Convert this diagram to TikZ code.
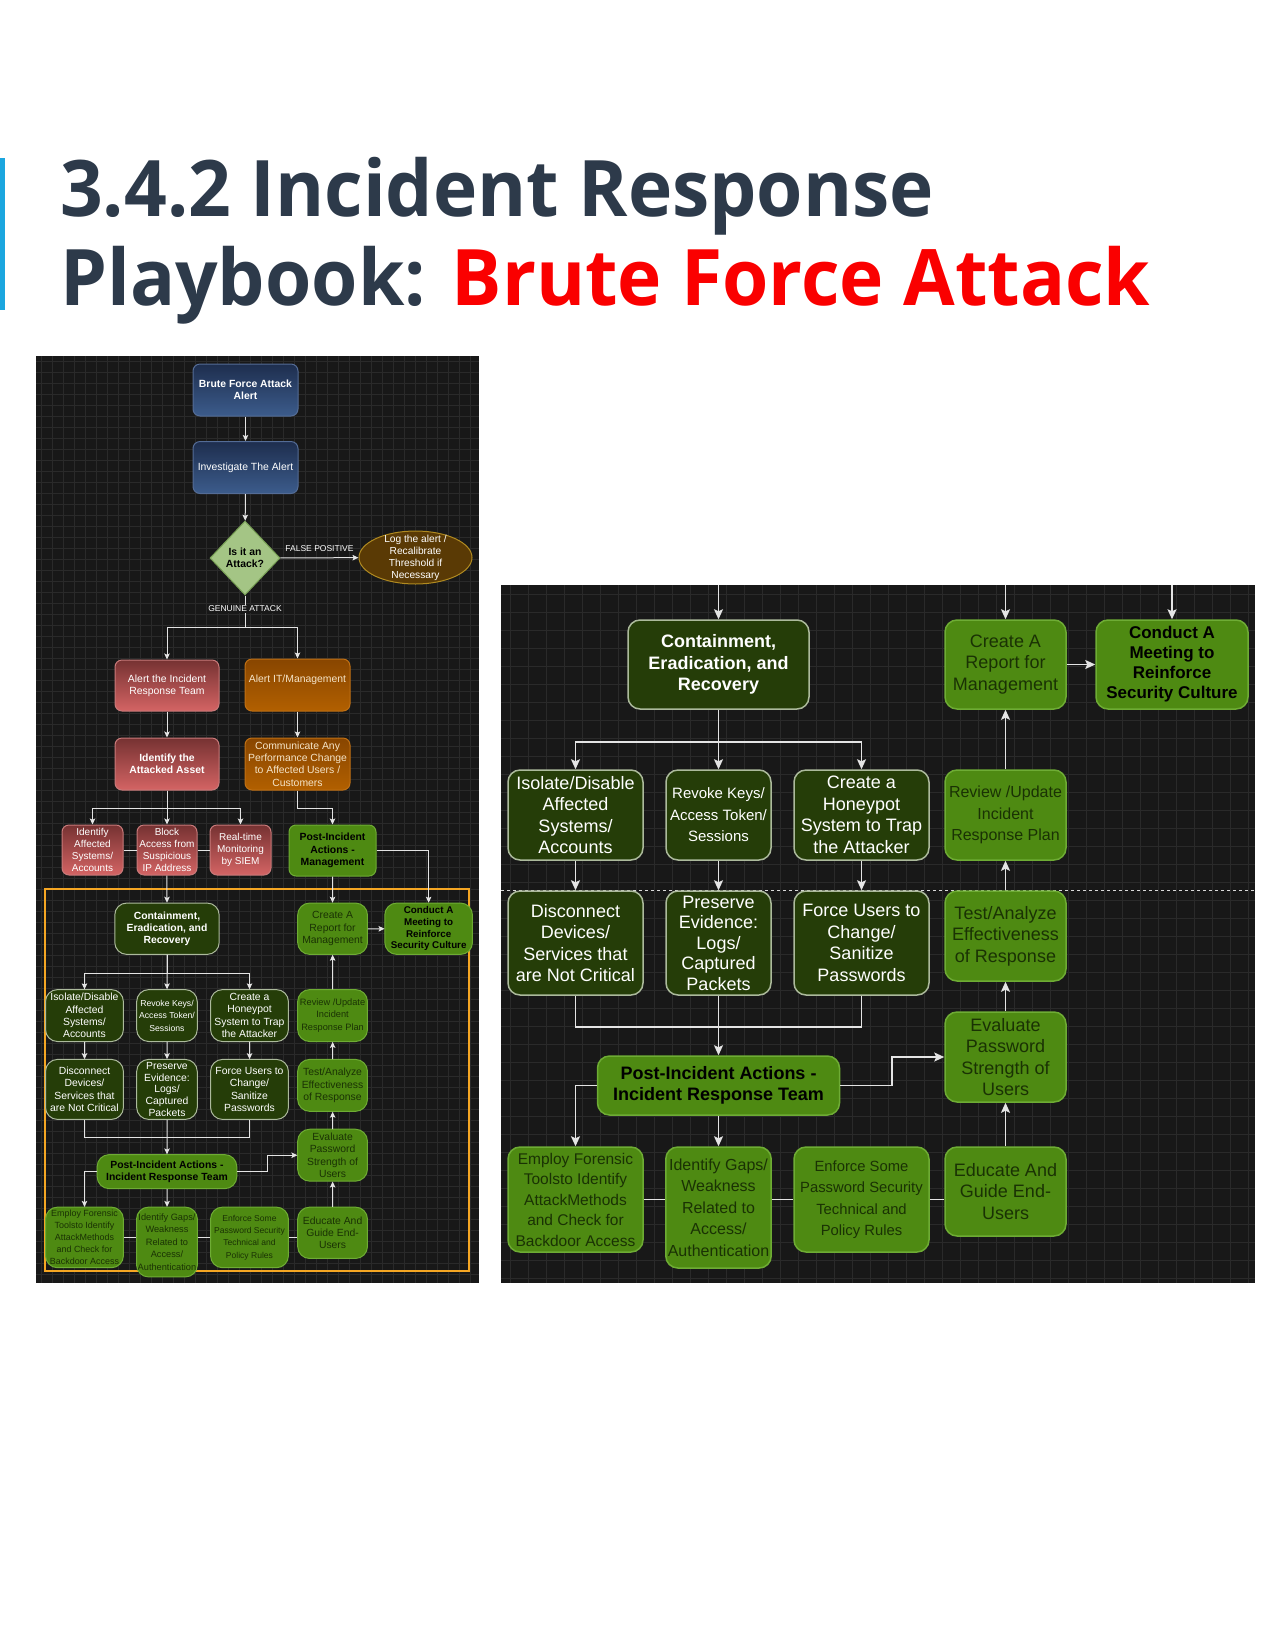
\documentclass[tikz,border=0pt]{standalone}
\usepackage{fontspec}
\setmainfont{Liberation Sans}
\newfontfamily\headfont{Open Sans}[FakeStretch=0.96]
\usepackage{xcolor}
\usepackage{tikz}
\usetikzlibrary{shapes.geometric, arrows.meta, positioning}
\definecolor{slatetext}{RGB}{45, 58, 74}
\definecolor{titlered}{RGB}{250, 0, 0}
\definecolor{barblue}{RGB}{27, 166, 223}
\definecolor{panelbg}{RGB}{24, 24, 24}
\definecolor{gridgray}{RGB}{42, 42, 42}
\definecolor{linkgray}{RGB}{228, 228, 228}
\definecolor{navytop}{RGB}{30, 46, 78}
\definecolor{navybot}{RGB}{60, 92, 140}
\definecolor{navyedge}{RGB}{84, 108, 150}
\definecolor{rosetop}{RGB}{118, 50, 50}
\definecolor{rosebot}{RGB}{212, 100, 100}
\definecolor{roseedge}{RGB}{200, 122, 122}
\definecolor{ambertop}{RGB}{136, 70, 0}
\definecolor{amberbot}{RGB}{178, 96, 0}
\definecolor{amberedge}{RGB}{192, 112, 20}
\definecolor{ambertext}{RGB}{245, 228, 200}
\definecolor{mossfill}{RGB}{37, 61, 8}
\definecolor{mossedge}{RGB}{172, 186, 156}
\definecolor{leaffill}{RGB}{78, 138, 18}
\definecolor{leafedge}{RGB}{110, 172, 52}
\definecolor{leaftext}{RGB}{26, 50, 4}
\definecolor{sagefill}{RGB}{164, 197, 133}
\definecolor{sageedge}{RGB}{120, 160, 85}
\definecolor{bronzefill}{RGB}{90, 58, 5}
\definecolor{bronzeedge}{RGB}{176, 138, 32}
\definecolor{frameorange}{RGB}{245, 166, 35}
\tikzstyle{box} = [
    rectangle,
    rounded corners=12pt,
    align=center,
    inner sep=2pt,
    line width=1.5pt,
    font=\fontsize{18}{21.5}\selectfont
]
\tikzstyle{mossbox} = [box, fill=mossfill, draw=mossedge, text=white]
\tikzstyle{leafbox} = [box, fill=leaffill, draw=leafedge, text=leaftext]
\tikzstyle{leafhead} = [leafbox, text=black, font=\fontsize{18}{21.5}\selectfont\bfseries]
\tikzstyle{smallbox} = [
    rectangle,
    rounded corners=7pt,
    align=center,
    inner sep=1pt,
    line width=1pt,
    font=\fontsize{10.4}{12.4}\selectfont
]
\tikzstyle{navybox} = [smallbox, top color=navytop, bottom color=navybot, draw=navyedge, text=white, minimum width=105pt, minimum height=52pt]
\tikzstyle{rosebox} = [smallbox, top color=rosetop, bottom color=rosebot, draw=roseedge, text=white]
\tikzstyle{amberbox} = [smallbox, top color=ambertop, bottom color=amberbot, draw=amberedge, text=ambertext, minimum width=105pt, minimum height=52pt]
\tikzstyle{arrow} = [
    ->,
    >={Stealth[length=10pt, width=9pt, inset=2pt]},
    line width=1.6pt,
    draw=linkgray
]
\tikzstyle{link} = [line width=1.6pt, draw=linkgray]
\tikzstyle{edgelabel} = [text=white, font=\fontsize{8.5}{10}\selectfont, inner sep=1pt]
\tikzstyle{gridline} = [draw=gridgray, line width=0.5pt]
% containment and post-incident part, drawn in both panels
\newcommand{\lowerflow}[1]{%
        \node[mossbox, font=\fontsize{18}{21.5}\selectfont\bfseries, minimum width=181pt, minimum height=89pt] (#1cer) at (718.5, 664.5) {Containment,\\Eradication, and\\Recovery};
        \node[leafbox, minimum width=121pt, minimum height=89pt] (#1rep) at (1005.5, 664.5) {Create A\\Report for\\Management};
        \node[leafhead, font=\fontsize{17}{20}\selectfont\bfseries, minimum width=152pt, minimum height=89pt] (#1meet) at (1172, 664.5) {Conduct A\\Meeting to\\Reinforce\\Security Culture};
        \node[mossbox, minimum width=135pt, minimum height=90pt] (#1iso) at (575.5, 815) {Isolate/Disable\\Affected\\Systems/\\Accounts};
        \node[mossbox, font=\fontsize{15}{21.5}\selectfont, minimum width=105pt, minimum height=90pt] (#1rev) at (718.5, 815) {Revoke Keys/\\Access Token/\\Sessions};
        \node[mossbox, minimum width=135pt, minimum height=90pt] (#1hon) at (861.5, 815) {Create a\\Honeypot\\System to Trap\\the Attacker};
        \node[leafbox, font=\fontsize{16}{21.5}\selectfont, minimum width=121pt, minimum height=90pt] (#1rvw) at (1005.5, 815) {Review /Update\\Incident\\Response Plan};
        \node[mossbox, minimum width=135pt, minimum height=104pt] (#1dis) at (575.5, 943) {Disconnect\\Devices/\\Services that\\are Not Critical};
        \node[mossbox, font=\fontsize{18}{20.5}\selectfont, minimum width=105pt, minimum height=104pt] (#1pre) at (718.5, 943) {Preserve\\Evidence:\\Logs/\\Captured\\Packets};
        \node[mossbox, minimum width=135pt, minimum height=104pt] (#1frc) at (861.5, 943) {Force Users to\\Change/\\Sanitize\\Passwords};
        \node[leafbox, minimum width=121pt, minimum height=90pt] (#1tst) at (1005.5, 936) {Test/Analyze\\Effectiveness\\of Response};
        \node[leafhead, minimum width=242pt, minimum height=59pt] (#1pir) at (718.5, 1085.5) {Post-Incident Actions -\\Incident Response Team};
        \node[leafbox, minimum width=121pt, minimum height=90pt] (#1eva) at (1005.5, 1057) {Evaluate\\Password\\Strength of\\Users};
        \node[leafbox, font=\fontsize{15.5}{20.5}\selectfont, minimum width=135pt, minimum height=105pt] (#1emp) at (575.5, 1199.5) {Employ Forensic\\Toolsto Identify\\AttackMethods\\and Check for\\Backdoor Access};
        \node[leafbox, font=\fontsize{16}{21.4}\selectfont, minimum width=105pt, minimum height=121pt] (#1gap) at (718.5, 1207.5) {Identify Gaps/\\Weakness\\Related to\\Access/\\Authentication};
        \node[leafbox, font=\fontsize{14.8}{21.5}\selectfont, minimum width=135pt, minimum height=105pt] (#1enf) at (861.5, 1199.5) {Enforce Some\\Password Security\\Technical and\\Policy Rules};
        \node[leafbox, minimum width=121pt, minimum height=89pt] (#1edu) at (1005.5, 1191.5) {Educate And\\Guide End-\\Users};
        \draw[arrow] (#1cer) -- (#1rev);
        \draw[arrow] (#1cer.south) -- ++(0, 32) -| (#1iso.north);
        \draw[arrow] (#1cer.south) -- ++(0, 32) -| (#1hon.north);
        \draw[arrow] (#1iso) -- (#1dis);
        \draw[arrow] (#1rev) -- (#1pre);
        \draw[arrow] (#1hon) -- (#1frc);
        \draw[link] (#1dis.south) -- ++(0, 31) -| (#1frc.south);
        \draw[arrow] (#1pre) -- (#1pir);
        \draw[arrow] (#1pir.west) -| (#1emp.north);
        \draw[arrow] (#1pir) -- (#1gap);
        \draw[arrow] (#1pir.east) -- ++(52, 0) |- (#1eva.west);
        \draw[link] (#1emp.east) -- (#1emp.east -| #1gap.west);
        \draw[link] (#1emp.east -| #1gap.east) -- (#1emp.east -| #1enf.west);
        \draw[link] (#1enf.east) -- (#1enf.east -| #1edu.west);
        \draw[arrow] (#1edu) -- (#1eva);
        \draw[arrow] (#1eva) -- (#1tst);
        \draw[arrow] (#1tst) -- (#1rvw);
        \draw[arrow] (#1rvw) -- (#1rep);
        \draw[arrow] (#1rep) -- (#1meet);
}
\begin{document}
\begin{tikzpicture}[x=1pt, y=-1pt]
        \useasboundingbox (0, 0) rectangle (1275, 1650);
        % Heading
        \fill[barblue] (0, 158) rectangle (5, 310);
        \node[anchor=base west, inner sep=0pt, text=slatetext, font=\headfont\bfseries\fontsize{78}{90}\selectfont] (headA) at (60, 216) {3.4.2 Incident Response};
        \node[anchor=base west, inner sep=0pt, text=slatetext, font=\headfont\bfseries\fontsize{78}{90}\selectfont] (headB) at (60, 305) {Playbook: \textcolor{titlered}{Brute Force Attack}};

        % Left panel
        \fill[panelbg] (36, 356) rectangle (479, 1283);
        \foreach \gx in {41, 52, ..., 479} \draw[gridline] (\gx, 356) -- (\gx, 1283);
        \foreach \gy in {361, 372, ..., 1283} \draw[gridline] (36, \gy) -- (479, \gy);
        \draw[frameorange, line width=2pt] (45, 889) rectangle (469, 1271);
        \begin{scope}[box/.append style={line width=1pt}, link/.append style={line width=1pt},
                arrow/.append style={line width=1pt, >={Stealth[length=6pt, width=5.5pt, inset=1.2pt]}}]
        \node[navybox, font=\fontsize{10.4}{12.4}\selectfont\bfseries] (alert) at (245.5, 390) {Brute Force Attack\\Alert};
        \node[navybox] (invest) at (245.5, 467.5) {Investigate The Alert};
        \node[diamond, aspect=1, fill=sagefill, draw=sageedge, line width=1pt, inner sep=0pt, minimum width=70pt, minimum height=74pt, align=center, font=\fontsize{10.4}{12.4}\selectfont\bfseries] (attack) at (245, 558) {Is it an\\Attack?};
        \node[ellipse, fill=bronzefill, draw=bronzeedge, line width=1pt, minimum width=113pt, minimum height=53pt,
                label={[text=white, align=center, font=\fontsize{10.2}{12}\selectfont]center:{Log the alert /\\Recalibrate\\Threshold if\\Necessary}}] (logalert) at (415.5, 557.5) {};
        \coordinate (fork) at (245, 627);
        \node[rosebox, minimum width=104pt, minimum height=51pt] (irt) at (167, 685.5) {Alert the Incident\\Response Team};
        \node[amberbox] (itm) at (297.5, 685) {Alert IT/Management\\ \mbox{}};
        \node[rosebox, font=\fontsize{10.4}{12.4}\selectfont\bfseries, minimum width=104pt, minimum height=52pt] (ida) at (167, 764) {Identify the\\Attacked Asset};
        \node[amberbox] (com) at (297.5, 764) {Communicate Any\\Performance Change\\to Affected Users /\\Customers};
        \node[rosebox, font=\fontsize{10}{12}\selectfont, minimum width=61pt, minimum height=50pt] (ias) at (92.5, 850) {Identify\\Affected\\Systems/\\Accounts};
        \node[rosebox, font=\fontsize{10}{12}\selectfont, minimum width=60pt, minimum height=50pt] (blk) at (167, 850) {Block\\Access from\\Suspicious\\IP Address};
        \node[rosebox, font=\fontsize{10}{12}\selectfont, minimum width=61pt, minimum height=50pt] (rtm) at (240.5, 850) {Real-time\\Monitoring\\by SIEM};
        \node[leafhead, rounded corners=7pt, font=\fontsize{10.4}{12.4}\selectfont\bfseries, minimum width=87pt, minimum height=51pt] (pim) at (332.5, 850.5) {Post-Incident\\Actions -\\Management};
        \begin{scope}[shift={(-247.6, 545.3)}, scale=0.577, transform shape]
        \lowerflow{l}
        \end{scope}
        \draw[arrow] (alert) -- (invest);
        \draw[arrow] (invest) -- (attack);
        \draw[arrow] (attack) -- node[edgelabel, above=5pt]{FALSE POSITIVE} (logalert);
        \draw[link] (attack.south) -- node[edgelabel, fill=panelbg, pos=0.42]{GENUINE ATTACK} (fork);
        \draw[arrow] (fork) -| (irt.north);
        \draw[arrow] (fork) -| (itm.north);
        \draw[arrow] (irt) -- (ida);
        \draw[arrow] (itm) -- (com);
        \draw[arrow] (ida.south) -- ++(0, 18) -| (ias.north);
        \draw[arrow] (ida.south) -- ++(0, 18) -| (rtm.north);
        \draw[arrow] (ida) -- (blk);
        \draw[link] (ias) -- (blk);
        \draw[link] (blk) -- (rtm);
        \draw[arrow] (com.south) -- ++(0, 18) -| (pim.north);
        \draw[arrow] (pim.east) -| (lmeet.north);
        \draw[arrow] (pim) -- (lrep);
        \draw[arrow] (blk) -- (lcer);
        \end{scope}

        % Right panel (enlarged)
        \fill[panelbg] (501, 585) rectangle (1255, 1283);
        \foreach \gx in {510, 528, ..., 1255} \draw[gridline] (\gx, 585) -- (\gx, 1283);
        \foreach \gy in {594, 612, ..., 1283} \draw[gridline] (501, \gy) -- (1255, \gy);
        \draw[dashed, draw=gray!30, line width=0.6pt] (501, 890) -- (1255, 890);
        \lowerflow{r}
        \coordinate (rinA) at (718.5, 585);
        \coordinate (rinB) at (1005.5, 585);
        \coordinate (rinC) at (1172, 585);
        \draw[arrow] (rinA) -- (rcer);
        \draw[arrow] (rinB) -- (rrep);
        \draw[arrow] (rinC) -- (rmeet);
\end{tikzpicture}
\end{document}
